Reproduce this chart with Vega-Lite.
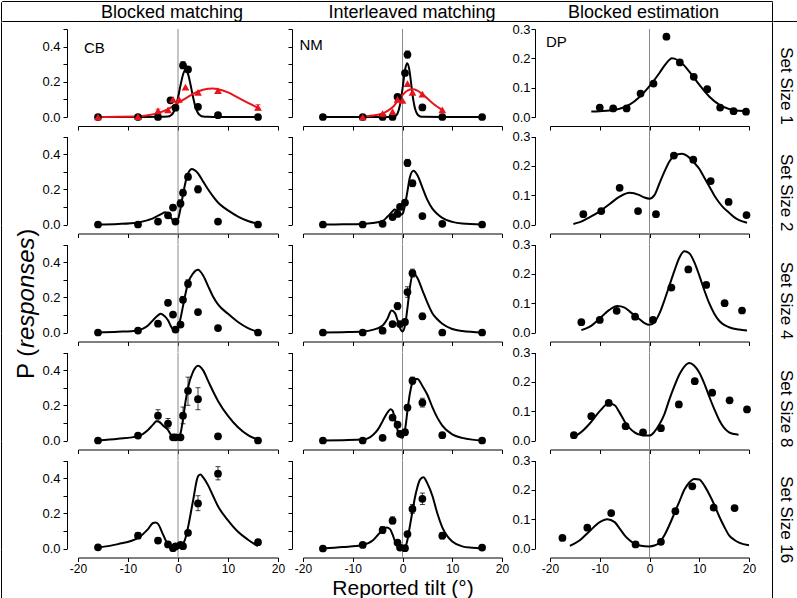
{
"$schema":"https://vega.github.io/schema/vega-lite/v6.json",
"padding":0,
"background":"white",
"config":{"font":"Liberation Sans","view":{"stroke":null},
"axis":{"grid":false,"domainColor":"black","tickColor":"black","labelColor":"black","tickSize":4,"labelFontSize":13,"labelPadding":3,"labelFlush":false,"labelOverlap":false,"titleColor":"black","titleFontWeight":"normal"},
"axisX":{"labelFontSize":12,"labelPadding":2},
"text":{"color":"black"}},
"datasets":{
"pts":[
{"p":"CB1","s":"b","x":-16,"y":0},{"p":"CB1","s":"b","x":-8,"y":0},{"p":"CB1","s":"b","x":-4,"y":0},{"p":"CB1","s":"b","x":-1.5,"y":0.095},{"p":"CB1","s":"b","x":-0.5,"y":0.053},{"p":"CB1","s":"b","x":1,"y":0.293,"lo":0.275,"hi":0.315},{"p":"CB1","s":"b","x":2,"y":0.27,"lo":0.258,"hi":0.282},{"p":"CB1","s":"b","x":4,"y":0.058},{"p":"CB1","s":"b","x":8,"y":0.01},{"p":"CB1","s":"b","x":16,"y":0},
{"p":"CB1","s":"r","x":-16,"y":0},{"p":"CB1","s":"r","x":-8,"y":0.002},{"p":"CB1","s":"r","x":-4,"y":0.035,"lo":0.025,"hi":0.045},{"p":"CB1","s":"r","x":-2,"y":0.04},{"p":"CB1","s":"r","x":-1,"y":0.1},{"p":"CB1","s":"r","x":0.2,"y":0.1},{"p":"CB1","s":"r","x":1.5,"y":0.17},{"p":"CB1","s":"r","x":4,"y":0.14},{"p":"CB1","s":"r","x":8,"y":0.15},{"p":"CB1","s":"r","x":16,"y":0.055,"lo":0.04,"hi":0.07},
{"p":"CB2","s":"b","x":-16,"y":0},{"p":"CB2","s":"b","x":-8,"y":0},{"p":"CB2","s":"b","x":-4,"y":0.017},{"p":"CB2","s":"b","x":-2,"y":0.052},{"p":"CB2","s":"b","x":-1,"y":0.096,"lo":0.085,"hi":0.11},{"p":"CB2","s":"b","x":-0.5,"y":0.017},{"p":"CB2","s":"b","x":0.5,"y":0.12,"lo":0.1,"hi":0.14},{"p":"CB2","s":"b","x":1,"y":0.18,"lo":0.165,"hi":0.2},{"p":"CB2","s":"b","x":2,"y":0.27,"lo":0.255,"hi":0.29},{"p":"CB2","s":"b","x":4,"y":0.2,"lo":0.18,"hi":0.22},{"p":"CB2","s":"b","x":8,"y":0.017},{"p":"CB2","s":"b","x":16,"y":0},
{"p":"CB3","s":"b","x":-16,"y":0},{"p":"CB3","s":"b","x":-8,"y":0.011},{"p":"CB3","s":"b","x":-4,"y":0.05},{"p":"CB3","s":"b","x":-2,"y":0.169,"lo":0.155,"hi":0.185},{"p":"CB3","s":"b","x":-1,"y":0.102},{"p":"CB3","s":"b","x":-0.5,"y":0.017},{"p":"CB3","s":"b","x":0.5,"y":0.045},{"p":"CB3","s":"b","x":1,"y":0.186,"lo":0.17,"hi":0.205},{"p":"CB3","s":"b","x":2,"y":0.277,"lo":0.255,"hi":0.3},{"p":"CB3","s":"b","x":4,"y":0.116},{"p":"CB3","s":"b","x":8,"y":0.025},{"p":"CB3","s":"b","x":16,"y":0},
{"p":"CB4","s":"b","x":-16,"y":0},{"p":"CB4","s":"b","x":-8,"y":0.028,"lo":0.018,"hi":0.04},{"p":"CB4","s":"b","x":-4,"y":0.141,"lo":0.11,"hi":0.175},{"p":"CB4","s":"b","x":-2,"y":0.096,"lo":0.07,"hi":0.125},{"p":"CB4","s":"b","x":-1,"y":0.018,"lo":0.005,"hi":0.03},{"p":"CB4","s":"b","x":-0.5,"y":0.018},{"p":"CB4","s":"b","x":0.5,"y":0.018,"lo":0.005,"hi":0.03},{"p":"CB4","s":"b","x":1,"y":0.141,"lo":0.095,"hi":0.19},{"p":"CB4","s":"b","x":2,"y":0.282,"lo":0.2,"hi":0.36},{"p":"CB4","s":"b","x":4,"y":0.235,"lo":0.175,"hi":0.3},{"p":"CB4","s":"b","x":8,"y":0.024,"lo":0.01,"hi":0.04},{"p":"CB4","s":"b","x":16,"y":0},
{"p":"CB5","s":"b","x":-16,"y":0.007},{"p":"CB5","s":"b","x":-8,"y":0.073,"lo":0.06,"hi":0.09},{"p":"CB5","s":"b","x":-4,"y":0.045,"lo":0.03,"hi":0.06},{"p":"CB5","s":"b","x":-2,"y":0.023},{"p":"CB5","s":"b","x":-1,"y":0.002},{"p":"CB5","s":"b","x":-0.5,"y":0.012},{"p":"CB5","s":"b","x":0.5,"y":0.021},{"p":"CB5","s":"b","x":1,"y":0.013},{"p":"CB5","s":"b","x":2,"y":0.089},{"p":"CB5","s":"b","x":4,"y":0.256,"lo":0.215,"hi":0.3},{"p":"CB5","s":"b","x":8,"y":0.425,"lo":0.39,"hi":0.465},{"p":"CB5","s":"b","x":16,"y":0.036},
{"p":"NM1","s":"b","x":-16,"y":0},{"p":"NM1","s":"b","x":-8,"y":0},{"p":"NM1","s":"b","x":-4,"y":0},{"p":"NM1","s":"b","x":-2,"y":0},{"p":"NM1","s":"b","x":-1,"y":0.115},{"p":"NM1","s":"b","x":0.5,"y":0.25},{"p":"NM1","s":"b","x":1,"y":0.355,"lo":0.335,"hi":0.375},{"p":"NM1","s":"b","x":4,"y":0.054},{"p":"NM1","s":"b","x":8,"y":0},{"p":"NM1","s":"b","x":16,"y":0},
{"p":"NM1","s":"r","x":-8,"y":0},{"p":"NM1","s":"r","x":-4,"y":0.02},{"p":"NM1","s":"r","x":-2,"y":0.03},{"p":"NM1","s":"r","x":-1,"y":0.1},{"p":"NM1","s":"r","x":0,"y":0.095},{"p":"NM1","s":"r","x":1,"y":0.19},{"p":"NM1","s":"r","x":2,"y":0.14},{"p":"NM1","s":"r","x":4,"y":0.13},{"p":"NM1","s":"r","x":8,"y":0.04},
{"p":"NM2","s":"b","x":-16,"y":0},{"p":"NM2","s":"b","x":-8,"y":0},{"p":"NM2","s":"b","x":-4,"y":0.004},{"p":"NM2","s":"b","x":-2,"y":0.042},{"p":"NM2","s":"b","x":-1,"y":0.06},{"p":"NM2","s":"b","x":-0.5,"y":0.1},{"p":"NM2","s":"b","x":0.5,"y":0.125},{"p":"NM2","s":"b","x":1,"y":0.35,"lo":0.33,"hi":0.37},{"p":"NM2","s":"b","x":2,"y":0.235,"lo":0.215,"hi":0.25},{"p":"NM2","s":"b","x":4,"y":0.048},{"p":"NM2","s":"b","x":8,"y":0.004},{"p":"NM2","s":"b","x":16,"y":0},
{"p":"NM3","s":"b","x":-16,"y":0},{"p":"NM3","s":"b","x":-8,"y":0},{"p":"NM3","s":"b","x":-4,"y":0.01},{"p":"NM3","s":"b","x":-2,"y":0.048},{"p":"NM3","s":"b","x":-1,"y":0.15,"lo":0.13,"hi":0.17},{"p":"NM3","s":"b","x":-0.5,"y":0.048},{"p":"NM3","s":"b","x":0.5,"y":0.06},{"p":"NM3","s":"b","x":1,"y":0.23,"lo":0.2,"hi":0.26},{"p":"NM3","s":"b","x":2,"y":0.337,"lo":0.315,"hi":0.36},{"p":"NM3","s":"b","x":4,"y":0.092,"lo":0.075,"hi":0.11},{"p":"NM3","s":"b","x":8,"y":0},{"p":"NM3","s":"b","x":16,"y":0},
{"p":"NM4","s":"b","x":-16,"y":0},{"p":"NM4","s":"b","x":-8,"y":0},{"p":"NM4","s":"b","x":-4,"y":0.015},{"p":"NM4","s":"b","x":-2,"y":0.13,"lo":0.12,"hi":0.14},{"p":"NM4","s":"b","x":-1,"y":0.09},{"p":"NM4","s":"b","x":-0.5,"y":0.038},{"p":"NM4","s":"b","x":0.5,"y":0.047},{"p":"NM4","s":"b","x":1,"y":0.187,"lo":0.17,"hi":0.2},{"p":"NM4","s":"b","x":2,"y":0.34,"lo":0.32,"hi":0.36},{"p":"NM4","s":"b","x":4,"y":0.215,"lo":0.19,"hi":0.24},{"p":"NM4","s":"b","x":8,"y":0.03},{"p":"NM4","s":"b","x":16,"y":0},
{"p":"NM5","s":"b","x":-16,"y":0},{"p":"NM5","s":"b","x":-8,"y":0.02},{"p":"NM5","s":"b","x":-4,"y":0.105,"lo":0.085,"hi":0.125},{"p":"NM5","s":"b","x":-2,"y":0.158,"lo":0.14,"hi":0.18},{"p":"NM5","s":"b","x":-1,"y":0.034},{"p":"NM5","s":"b","x":-0.5,"y":0.005},{"p":"NM5","s":"b","x":0.5,"y":0.002},{"p":"NM5","s":"b","x":1,"y":0.082},{"p":"NM5","s":"b","x":2,"y":0.225,"lo":0.2,"hi":0.25},{"p":"NM5","s":"b","x":4,"y":0.282,"lo":0.25,"hi":0.315},{"p":"NM5","s":"b","x":8,"y":0.073,"lo":0.055,"hi":0.09},{"p":"NM5","s":"b","x":16,"y":0.005},
{"p":"DP1","s":"b","x":-10,"y":0.032},{"p":"DP1","s":"b","x":-7.3,"y":0.029},{"p":"DP1","s":"b","x":-4.6,"y":0.029},{"p":"DP1","s":"b","x":-1.8,"y":0.08},{"p":"DP1","s":"b","x":0.8,"y":0.114},{"p":"DP1","s":"b","x":3.4,"y":0.274},{"p":"DP1","s":"b","x":6.1,"y":0.186},{"p":"DP1","s":"b","x":8.9,"y":0.137},{"p":"DP1","s":"b","x":11.6,"y":0.095},{"p":"DP1","s":"b","x":14.2,"y":0.032},{"p":"DP1","s":"b","x":16.9,"y":0.02},{"p":"DP1","s":"b","x":19.4,"y":0.018},
{"p":"DP2","s":"b","x":-13.3,"y":0.035},{"p":"DP2","s":"b","x":-9.7,"y":0.046},{"p":"DP2","s":"b","x":-6,"y":0.125},{"p":"DP2","s":"b","x":-2.3,"y":0.046},{"p":"DP2","s":"b","x":1.3,"y":0.035},{"p":"DP2","s":"b","x":4.9,"y":0.235},{"p":"DP2","s":"b","x":8.8,"y":0.221},{"p":"DP2","s":"b","x":12.3,"y":0.148},{"p":"DP2","s":"b","x":15.9,"y":0.077},{"p":"DP2","s":"b","x":19.5,"y":0.032},
{"p":"DP3","s":"b","x":-13.7,"y":0.035},{"p":"DP3","s":"b","x":-10,"y":0.043},{"p":"DP3","s":"b","x":-6.6,"y":0.074},{"p":"DP3","s":"b","x":-2.9,"y":0.054},{"p":"DP3","s":"b","x":0.7,"y":0.043},{"p":"DP3","s":"b","x":4.4,"y":0.153},{"p":"DP3","s":"b","x":7.8,"y":0.215},{"p":"DP3","s":"b","x":11.4,"y":0.162},{"p":"DP3","s":"b","x":15.1,"y":0.1},{"p":"DP3","s":"b","x":18.6,"y":0.075},
{"p":"DP4","s":"b","x":-15.2,"y":0.018},{"p":"DP4","s":"b","x":-11.7,"y":0.083},{"p":"DP4","s":"b","x":-8.2,"y":0.128},{"p":"DP4","s":"b","x":-4.8,"y":0.049},{"p":"DP4","s":"b","x":-1.3,"y":0.028},{"p":"DP4","s":"b","x":2.3,"y":0.042},{"p":"DP4","s":"b","x":5.9,"y":0.123},{"p":"DP4","s":"b","x":9.1,"y":0.202},{"p":"DP4","s":"b","x":12.6,"y":0.163},{"p":"DP4","s":"b","x":16.1,"y":0.137},{"p":"DP4","s":"b","x":19.6,"y":0.106},
{"p":"DP5","s":"b","x":-17.5,"y":0.036},{"p":"DP5","s":"b","x":-12.5,"y":0.071},{"p":"DP5","s":"b","x":-7.7,"y":0.121},{"p":"DP5","s":"b","x":-2.8,"y":0.014},{"p":"DP5","s":"b","x":2.3,"y":0.023},{"p":"DP5","s":"b","x":5.2,"y":0.127},{"p":"DP5","s":"b","x":8.6,"y":0.212},{"p":"DP5","s":"b","x":12.9,"y":0.139},{"p":"DP5","s":"b","x":17.1,"y":0.138}
],
"crv":[
{"p":"CB1","s":"b","x":-16,"y":0},{"p":"CB1","s":"b","x":-8,"y":0},{"p":"CB1","s":"b","x":-4,"y":0.001},{"p":"CB1","s":"b","x":-2,"y":0.003},{"p":"CB1","s":"b","x":-1.5,"y":0.008},{"p":"CB1","s":"b","x":-1,"y":0.022},{"p":"CB1","s":"b","x":-0.5,"y":0.055},{"p":"CB1","s":"b","x":0,"y":0.11},{"p":"CB1","s":"b","x":0.5,"y":0.18},{"p":"CB1","s":"b","x":1,"y":0.24},{"p":"CB1","s":"b","x":1.5,"y":0.27},{"p":"CB1","s":"b","x":2,"y":0.245},{"p":"CB1","s":"b","x":2.5,"y":0.185},{"p":"CB1","s":"b","x":3,"y":0.115},{"p":"CB1","s":"b","x":3.5,"y":0.055},{"p":"CB1","s":"b","x":4,"y":0.022},{"p":"CB1","s":"b","x":4.5,"y":0.008},{"p":"CB1","s":"b","x":5,"y":0.003},{"p":"CB1","s":"b","x":6,"y":0.001},{"p":"CB1","s":"b","x":8,"y":0},{"p":"CB1","s":"b","x":16,"y":0},
{"p":"CB1","s":"r","x":-16,"y":0},{"p":"CB1","s":"r","x":-12,"y":0.001},{"p":"CB1","s":"r","x":-8,"y":0.004},{"p":"CB1","s":"r","x":-6,"y":0.01},{"p":"CB1","s":"r","x":-4,"y":0.022},{"p":"CB1","s":"r","x":-2,"y":0.045},{"p":"CB1","s":"r","x":0,"y":0.08},{"p":"CB1","s":"r","x":2,"y":0.115},{"p":"CB1","s":"r","x":4,"y":0.145},{"p":"CB1","s":"r","x":6,"y":0.16},{"p":"CB1","s":"r","x":7,"y":0.162},{"p":"CB1","s":"r","x":8,"y":0.158},{"p":"CB1","s":"r","x":10,"y":0.14},{"p":"CB1","s":"r","x":12,"y":0.11},{"p":"CB1","s":"r","x":14,"y":0.08},{"p":"CB1","s":"r","x":16,"y":0.052},
{"p":"CB2","s":"b","x":-16,"y":0},{"p":"CB2","s":"b","x":-12,"y":0.003},{"p":"CB2","s":"b","x":-8,"y":0.012},{"p":"CB2","s":"b","x":-6,"y":0.025},{"p":"CB2","s":"b","x":-5,"y":0.035},{"p":"CB2","s":"b","x":-4,"y":0.05},{"p":"CB2","s":"b","x":-3,"y":0.065},{"p":"CB2","s":"b","x":-2.6,"y":0.07},{"p":"CB2","s":"b","x":-2,"y":0.062},{"p":"CB2","s":"b","x":-1.5,"y":0.042},{"p":"CB2","s":"b","x":-1,"y":0.022},{"p":"CB2","s":"b","x":-0.5,"y":0.014},{"p":"CB2","s":"b","x":0,"y":0.03},{"p":"CB2","s":"b","x":0.5,"y":0.09},{"p":"CB2","s":"b","x":1,"y":0.17},{"p":"CB2","s":"b","x":1.5,"y":0.24},{"p":"CB2","s":"b","x":2,"y":0.29},{"p":"CB2","s":"b","x":2.8,"y":0.316},{"p":"CB2","s":"b","x":3.5,"y":0.305},{"p":"CB2","s":"b","x":4,"y":0.29},{"p":"CB2","s":"b","x":5,"y":0.245},{"p":"CB2","s":"b","x":6,"y":0.2},{"p":"CB2","s":"b","x":7,"y":0.16},{"p":"CB2","s":"b","x":8,"y":0.125},{"p":"CB2","s":"b","x":9,"y":0.1},{"p":"CB2","s":"b","x":10,"y":0.08},{"p":"CB2","s":"b","x":12,"y":0.045},{"p":"CB2","s":"b","x":14,"y":0.02},{"p":"CB2","s":"b","x":16,"y":0.004},
{"p":"CB3","s":"b","x":-16,"y":0},{"p":"CB3","s":"b","x":-12,"y":0.004},{"p":"CB3","s":"b","x":-8,"y":0.012},{"p":"CB3","s":"b","x":-7,"y":0.022},{"p":"CB3","s":"b","x":-6,"y":0.04},{"p":"CB3","s":"b","x":-5,"y":0.07},{"p":"CB3","s":"b","x":-4,"y":0.097},{"p":"CB3","s":"b","x":-3.5,"y":0.106},{"p":"CB3","s":"b","x":-3,"y":0.1},{"p":"CB3","s":"b","x":-2,"y":0.07},{"p":"CB3","s":"b","x":-1.5,"y":0.04},{"p":"CB3","s":"b","x":-1,"y":0.018},{"p":"CB3","s":"b","x":-0.5,"y":0.012},{"p":"CB3","s":"b","x":0,"y":0.03},{"p":"CB3","s":"b","x":0.5,"y":0.08},{"p":"CB3","s":"b","x":1,"y":0.15},{"p":"CB3","s":"b","x":1.5,"y":0.22},{"p":"CB3","s":"b","x":2,"y":0.28},{"p":"CB3","s":"b","x":3,"y":0.335},{"p":"CB3","s":"b","x":4,"y":0.356},{"p":"CB3","s":"b","x":5,"y":0.325},{"p":"CB3","s":"b","x":6,"y":0.265},{"p":"CB3","s":"b","x":7,"y":0.205},{"p":"CB3","s":"b","x":8,"y":0.16},{"p":"CB3","s":"b","x":10,"y":0.106},{"p":"CB3","s":"b","x":12,"y":0.06},{"p":"CB3","s":"b","x":14,"y":0.025},{"p":"CB3","s":"b","x":16,"y":0.003},
{"p":"CB4","s":"b","x":-16,"y":0},{"p":"CB4","s":"b","x":-12,"y":0.01},{"p":"CB4","s":"b","x":-8,"y":0.025},{"p":"CB4","s":"b","x":-6,"y":0.06},{"p":"CB4","s":"b","x":-5,"y":0.09},{"p":"CB4","s":"b","x":-4.3,"y":0.109},{"p":"CB4","s":"b","x":-3.5,"y":0.1},{"p":"CB4","s":"b","x":-3,"y":0.085},{"p":"CB4","s":"b","x":-2,"y":0.06},{"p":"CB4","s":"b","x":-1.5,"y":0.035},{"p":"CB4","s":"b","x":-1,"y":0.012},{"p":"CB4","s":"b","x":-0.5,"y":0.008},{"p":"CB4","s":"b","x":0,"y":0.012},{"p":"CB4","s":"b","x":0.5,"y":0.04},{"p":"CB4","s":"b","x":1,"y":0.12},{"p":"CB4","s":"b","x":1.5,"y":0.22},{"p":"CB4","s":"b","x":2,"y":0.3},{"p":"CB4","s":"b","x":3,"y":0.39},{"p":"CB4","s":"b","x":4,"y":0.425},{"p":"CB4","s":"b","x":5,"y":0.4},{"p":"CB4","s":"b","x":6,"y":0.34},{"p":"CB4","s":"b","x":7,"y":0.28},{"p":"CB4","s":"b","x":8,"y":0.225},{"p":"CB4","s":"b","x":10,"y":0.14},{"p":"CB4","s":"b","x":12,"y":0.075},{"p":"CB4","s":"b","x":14,"y":0.03},{"p":"CB4","s":"b","x":16,"y":0.005},
{"p":"CB5","s":"b","x":-16,"y":0.005},{"p":"CB5","s":"b","x":-12,"y":0.025},{"p":"CB5","s":"b","x":-8,"y":0.06},{"p":"CB5","s":"b","x":-6,"y":0.11},{"p":"CB5","s":"b","x":-5,"y":0.145},{"p":"CB5","s":"b","x":-4.5,"y":0.148},{"p":"CB5","s":"b","x":-4,"y":0.14},{"p":"CB5","s":"b","x":-3,"y":0.08},{"p":"CB5","s":"b","x":-2,"y":0.02},{"p":"CB5","s":"b","x":-1.5,"y":0.006},{"p":"CB5","s":"b","x":-1,"y":0.002},{"p":"CB5","s":"b","x":0,"y":0.005},{"p":"CB5","s":"b","x":0.5,"y":0.01},{"p":"CB5","s":"b","x":1,"y":0.025},{"p":"CB5","s":"b","x":1.5,"y":0.06},{"p":"CB5","s":"b","x":2,"y":0.12},{"p":"CB5","s":"b","x":3,"y":0.27},{"p":"CB5","s":"b","x":4,"y":0.41},{"p":"CB5","s":"b","x":4.5,"y":0.42},{"p":"CB5","s":"b","x":5,"y":0.405},{"p":"CB5","s":"b","x":6,"y":0.36},{"p":"CB5","s":"b","x":7,"y":0.3},{"p":"CB5","s":"b","x":8,"y":0.24},{"p":"CB5","s":"b","x":10,"y":0.16},{"p":"CB5","s":"b","x":12,"y":0.095},{"p":"CB5","s":"b","x":14,"y":0.05},{"p":"CB5","s":"b","x":16,"y":0.013},
{"p":"NM1","s":"b","x":-16,"y":0},{"p":"NM1","s":"b","x":-8,"y":0},{"p":"NM1","s":"b","x":-4,"y":0},{"p":"NM1","s":"b","x":-2,"y":0.001},{"p":"NM1","s":"b","x":-1.5,"y":0.005},{"p":"NM1","s":"b","x":-1,"y":0.02},{"p":"NM1","s":"b","x":-0.5,"y":0.07},{"p":"NM1","s":"b","x":0,"y":0.16},{"p":"NM1","s":"b","x":0.5,"y":0.265},{"p":"NM1","s":"b","x":0.9,"y":0.305},{"p":"NM1","s":"b","x":1.3,"y":0.28},{"p":"NM1","s":"b","x":1.7,"y":0.2},{"p":"NM1","s":"b","x":2,"y":0.13},{"p":"NM1","s":"b","x":2.5,"y":0.05},{"p":"NM1","s":"b","x":3,"y":0.015},{"p":"NM1","s":"b","x":3.5,"y":0.004},{"p":"NM1","s":"b","x":4,"y":0.001},{"p":"NM1","s":"b","x":8,"y":0},{"p":"NM1","s":"b","x":16,"y":0},
{"p":"NM1","s":"r","x":-8,"y":0.003},{"p":"NM1","s":"r","x":-6,"y":0.008},{"p":"NM1","s":"r","x":-4,"y":0.02},{"p":"NM1","s":"r","x":-3,"y":0.035},{"p":"NM1","s":"r","x":-2,"y":0.055},{"p":"NM1","s":"r","x":-1,"y":0.09},{"p":"NM1","s":"r","x":0,"y":0.125},{"p":"NM1","s":"r","x":1,"y":0.15},{"p":"NM1","s":"r","x":2,"y":0.157},{"p":"NM1","s":"r","x":3,"y":0.15},{"p":"NM1","s":"r","x":4,"y":0.13},{"p":"NM1","s":"r","x":5,"y":0.105},{"p":"NM1","s":"r","x":6,"y":0.08},{"p":"NM1","s":"r","x":7,"y":0.058},{"p":"NM1","s":"r","x":8,"y":0.04},
{"p":"NM2","s":"b","x":-16,"y":0},{"p":"NM2","s":"b","x":-12,"y":0.001},{"p":"NM2","s":"b","x":-8,"y":0.003},{"p":"NM2","s":"b","x":-6,"y":0.008},{"p":"NM2","s":"b","x":-4,"y":0.02},{"p":"NM2","s":"b","x":-3,"y":0.045},{"p":"NM2","s":"b","x":-2,"y":0.075},{"p":"NM2","s":"b","x":-1.6,"y":0.085},{"p":"NM2","s":"b","x":-1,"y":0.075},{"p":"NM2","s":"b","x":-0.5,"y":0.055},{"p":"NM2","s":"b","x":0,"y":0.06},{"p":"NM2","s":"b","x":0.5,"y":0.11},{"p":"NM2","s":"b","x":1,"y":0.19},{"p":"NM2","s":"b","x":1.5,"y":0.27},{"p":"NM2","s":"b","x":2.2,"y":0.305},{"p":"NM2","s":"b","x":3,"y":0.28},{"p":"NM2","s":"b","x":4,"y":0.21},{"p":"NM2","s":"b","x":5,"y":0.14},{"p":"NM2","s":"b","x":6,"y":0.09},{"p":"NM2","s":"b","x":7,"y":0.06},{"p":"NM2","s":"b","x":8,"y":0.038},{"p":"NM2","s":"b","x":10,"y":0.015},{"p":"NM2","s":"b","x":12,"y":0.005},{"p":"NM2","s":"b","x":16,"y":0},
{"p":"NM3","s":"b","x":-16,"y":0},{"p":"NM3","s":"b","x":-12,"y":0.002},{"p":"NM3","s":"b","x":-8,"y":0.006},{"p":"NM3","s":"b","x":-6,"y":0.015},{"p":"NM3","s":"b","x":-4,"y":0.04},{"p":"NM3","s":"b","x":-3,"y":0.08},{"p":"NM3","s":"b","x":-2.2,"y":0.125},{"p":"NM3","s":"b","x":-1.5,"y":0.11},{"p":"NM3","s":"b","x":-1,"y":0.07},{"p":"NM3","s":"b","x":-0.5,"y":0.025},{"p":"NM3","s":"b","x":0,"y":0.006},{"p":"NM3","s":"b","x":0.5,"y":0.04},{"p":"NM3","s":"b","x":1,"y":0.14},{"p":"NM3","s":"b","x":1.5,"y":0.26},{"p":"NM3","s":"b","x":2.2,"y":0.335},{"p":"NM3","s":"b","x":3,"y":0.31},{"p":"NM3","s":"b","x":4,"y":0.24},{"p":"NM3","s":"b","x":5,"y":0.17},{"p":"NM3","s":"b","x":6,"y":0.11},{"p":"NM3","s":"b","x":7,"y":0.075},{"p":"NM3","s":"b","x":8,"y":0.05},{"p":"NM3","s":"b","x":10,"y":0.02},{"p":"NM3","s":"b","x":12,"y":0.008},{"p":"NM3","s":"b","x":16,"y":0},
{"p":"NM4","s":"b","x":-16,"y":0},{"p":"NM4","s":"b","x":-12,"y":0.002},{"p":"NM4","s":"b","x":-8,"y":0.005},{"p":"NM4","s":"b","x":-6,"y":0.03},{"p":"NM4","s":"b","x":-5,"y":0.06},{"p":"NM4","s":"b","x":-4,"y":0.11},{"p":"NM4","s":"b","x":-3,"y":0.16},{"p":"NM4","s":"b","x":-2.4,"y":0.177},{"p":"NM4","s":"b","x":-2,"y":0.17},{"p":"NM4","s":"b","x":-1.5,"y":0.12},{"p":"NM4","s":"b","x":-1,"y":0.06},{"p":"NM4","s":"b","x":-0.5,"y":0.02},{"p":"NM4","s":"b","x":0,"y":0.015},{"p":"NM4","s":"b","x":0.5,"y":0.06},{"p":"NM4","s":"b","x":1,"y":0.17},{"p":"NM4","s":"b","x":1.5,"y":0.27},{"p":"NM4","s":"b","x":2,"y":0.33},{"p":"NM4","s":"b","x":2.5,"y":0.35},{"p":"NM4","s":"b","x":3,"y":0.35},{"p":"NM4","s":"b","x":4,"y":0.31},{"p":"NM4","s":"b","x":5,"y":0.26},{"p":"NM4","s":"b","x":6,"y":0.19},{"p":"NM4","s":"b","x":7,"y":0.13},{"p":"NM4","s":"b","x":8,"y":0.085},{"p":"NM4","s":"b","x":10,"y":0.035},{"p":"NM4","s":"b","x":12,"y":0.015},{"p":"NM4","s":"b","x":14,"y":0.005},{"p":"NM4","s":"b","x":16,"y":0},
{"p":"NM5","s":"b","x":-16,"y":0},{"p":"NM5","s":"b","x":-12,"y":0.008},{"p":"NM5","s":"b","x":-8,"y":0.02},{"p":"NM5","s":"b","x":-6,"y":0.045},{"p":"NM5","s":"b","x":-5,"y":0.075},{"p":"NM5","s":"b","x":-4,"y":0.105},{"p":"NM5","s":"b","x":-3.2,"y":0.12},{"p":"NM5","s":"b","x":-2.5,"y":0.11},{"p":"NM5","s":"b","x":-2,"y":0.08},{"p":"NM5","s":"b","x":-1.5,"y":0.04},{"p":"NM5","s":"b","x":-1,"y":0.015},{"p":"NM5","s":"b","x":-0.3,"y":0.005},{"p":"NM5","s":"b","x":0.5,"y":0.005},{"p":"NM5","s":"b","x":1,"y":0.05},{"p":"NM5","s":"b","x":1.5,"y":0.13},{"p":"NM5","s":"b","x":2,"y":0.21},{"p":"NM5","s":"b","x":2.5,"y":0.29},{"p":"NM5","s":"b","x":3,"y":0.35},{"p":"NM5","s":"b","x":3.5,"y":0.39},{"p":"NM5","s":"b","x":4.2,"y":0.405},{"p":"NM5","s":"b","x":5,"y":0.37},{"p":"NM5","s":"b","x":6,"y":0.3},{"p":"NM5","s":"b","x":7,"y":0.2},{"p":"NM5","s":"b","x":8,"y":0.12},{"p":"NM5","s":"b","x":9,"y":0.07},{"p":"NM5","s":"b","x":10,"y":0.04},{"p":"NM5","s":"b","x":12,"y":0.012},{"p":"NM5","s":"b","x":14,"y":0.004},{"p":"NM5","s":"b","x":16,"y":0},
{"p":"DP1","s":"b","x":-11.7,"y":0.019},{"p":"DP1","s":"b","x":-10,"y":0.02},{"p":"DP1","s":"b","x":-8,"y":0.022},{"p":"DP1","s":"b","x":-6,"y":0.028},{"p":"DP1","s":"b","x":-4,"y":0.042},{"p":"DP1","s":"b","x":-2,"y":0.068},{"p":"DP1","s":"b","x":0,"y":0.105},{"p":"DP1","s":"b","x":2,"y":0.15},{"p":"DP1","s":"b","x":3,"y":0.175},{"p":"DP1","s":"b","x":4,"y":0.195},{"p":"DP1","s":"b","x":4.5,"y":0.2},{"p":"DP1","s":"b","x":5,"y":0.199},{"p":"DP1","s":"b","x":6,"y":0.19},{"p":"DP1","s":"b","x":7,"y":0.175},{"p":"DP1","s":"b","x":8,"y":0.155},{"p":"DP1","s":"b","x":10,"y":0.11},{"p":"DP1","s":"b","x":12,"y":0.07},{"p":"DP1","s":"b","x":14,"y":0.042},{"p":"DP1","s":"b","x":16,"y":0.027},{"p":"DP1","s":"b","x":18,"y":0.021},{"p":"DP1","s":"b","x":20,"y":0.019},
{"p":"DP2","s":"b","x":-15.3,"y":0.002},{"p":"DP2","s":"b","x":-14,"y":0.008},{"p":"DP2","s":"b","x":-12,"y":0.025},{"p":"DP2","s":"b","x":-10,"y":0.045},{"p":"DP2","s":"b","x":-8,"y":0.07},{"p":"DP2","s":"b","x":-6,"y":0.095},{"p":"DP2","s":"b","x":-4,"y":0.108},{"p":"DP2","s":"b","x":-2,"y":0.1},{"p":"DP2","s":"b","x":-1,"y":0.092},{"p":"DP2","s":"b","x":0,"y":0.088},{"p":"DP2","s":"b","x":1,"y":0.1},{"p":"DP2","s":"b","x":2,"y":0.14},{"p":"DP2","s":"b","x":3,"y":0.18},{"p":"DP2","s":"b","x":4,"y":0.215},{"p":"DP2","s":"b","x":5,"y":0.235},{"p":"DP2","s":"b","x":6.5,"y":0.241},{"p":"DP2","s":"b","x":8,"y":0.228},{"p":"DP2","s":"b","x":9,"y":0.21},{"p":"DP2","s":"b","x":10,"y":0.19},{"p":"DP2","s":"b","x":11,"y":0.16},{"p":"DP2","s":"b","x":12,"y":0.13},{"p":"DP2","s":"b","x":13,"y":0.1},{"p":"DP2","s":"b","x":14,"y":0.075},{"p":"DP2","s":"b","x":15,"y":0.055},{"p":"DP2","s":"b","x":16,"y":0.04},{"p":"DP2","s":"b","x":17,"y":0.025},{"p":"DP2","s":"b","x":18,"y":0.015},{"p":"DP2","s":"b","x":19.6,"y":0.006},
{"p":"DP3","s":"b","x":-13.7,"y":0.008},{"p":"DP3","s":"b","x":-12,"y":0.02},{"p":"DP3","s":"b","x":-10,"y":0.048},{"p":"DP3","s":"b","x":-8,"y":0.078},{"p":"DP3","s":"b","x":-6.5,"y":0.09},{"p":"DP3","s":"b","x":-5,"y":0.085},{"p":"DP3","s":"b","x":-4,"y":0.072},{"p":"DP3","s":"b","x":-2,"y":0.045},{"p":"DP3","s":"b","x":-1,"y":0.032},{"p":"DP3","s":"b","x":0,"y":0.026},{"p":"DP3","s":"b","x":1,"y":0.035},{"p":"DP3","s":"b","x":2,"y":0.065},{"p":"DP3","s":"b","x":3,"y":0.11},{"p":"DP3","s":"b","x":4,"y":0.16},{"p":"DP3","s":"b","x":5,"y":0.21},{"p":"DP3","s":"b","x":6,"y":0.255},{"p":"DP3","s":"b","x":7,"y":0.277},{"p":"DP3","s":"b","x":8,"y":0.27},{"p":"DP3","s":"b","x":9,"y":0.24},{"p":"DP3","s":"b","x":10,"y":0.195},{"p":"DP3","s":"b","x":11,"y":0.145},{"p":"DP3","s":"b","x":12,"y":0.1},{"p":"DP3","s":"b","x":13,"y":0.065},{"p":"DP3","s":"b","x":14,"y":0.04},{"p":"DP3","s":"b","x":15,"y":0.026},{"p":"DP3","s":"b","x":16,"y":0.018},{"p":"DP3","s":"b","x":18,"y":0.01},{"p":"DP3","s":"b","x":19.6,"y":0.007},
{"p":"DP4","s":"b","x":-15.2,"y":0.013},{"p":"DP4","s":"b","x":-14,"y":0.025},{"p":"DP4","s":"b","x":-12,"y":0.058},{"p":"DP4","s":"b","x":-10,"y":0.1},{"p":"DP4","s":"b","x":-8.2,"y":0.127},{"p":"DP4","s":"b","x":-7,"y":0.12},{"p":"DP4","s":"b","x":-6,"y":0.095},{"p":"DP4","s":"b","x":-5,"y":0.065},{"p":"DP4","s":"b","x":-4,"y":0.042},{"p":"DP4","s":"b","x":-3,"y":0.028},{"p":"DP4","s":"b","x":-2,"y":0.02},{"p":"DP4","s":"b","x":-1,"y":0.017},{"p":"DP4","s":"b","x":0,"y":0.017},{"p":"DP4","s":"b","x":1,"y":0.03},{"p":"DP4","s":"b","x":2,"y":0.055},{"p":"DP4","s":"b","x":3,"y":0.09},{"p":"DP4","s":"b","x":4,"y":0.14},{"p":"DP4","s":"b","x":5,"y":0.185},{"p":"DP4","s":"b","x":6,"y":0.225},{"p":"DP4","s":"b","x":7,"y":0.252},{"p":"DP4","s":"b","x":8,"y":0.264},{"p":"DP4","s":"b","x":9,"y":0.255},{"p":"DP4","s":"b","x":10,"y":0.232},{"p":"DP4","s":"b","x":11,"y":0.195},{"p":"DP4","s":"b","x":12,"y":0.15},{"p":"DP4","s":"b","x":13,"y":0.108},{"p":"DP4","s":"b","x":14,"y":0.07},{"p":"DP4","s":"b","x":15,"y":0.043},{"p":"DP4","s":"b","x":16,"y":0.028},{"p":"DP4","s":"b","x":17,"y":0.022},{"p":"DP4","s":"b","x":17.9,"y":0.02},
{"p":"DP5","s":"b","x":-16,"y":0.009},{"p":"DP5","s":"b","x":-14,"y":0.028},{"p":"DP5","s":"b","x":-12,"y":0.06},{"p":"DP5","s":"b","x":-10,"y":0.09},{"p":"DP5","s":"b","x":-8.5,"y":0.1},{"p":"DP5","s":"b","x":-7,"y":0.09},{"p":"DP5","s":"b","x":-6,"y":0.068},{"p":"DP5","s":"b","x":-5,"y":0.045},{"p":"DP5","s":"b","x":-4,"y":0.028},{"p":"DP5","s":"b","x":-3,"y":0.016},{"p":"DP5","s":"b","x":-2,"y":0.01},{"p":"DP5","s":"b","x":0,"y":0.007},{"p":"DP5","s":"b","x":1,"y":0.01},{"p":"DP5","s":"b","x":2,"y":0.02},{"p":"DP5","s":"b","x":3,"y":0.045},{"p":"DP5","s":"b","x":4,"y":0.08},{"p":"DP5","s":"b","x":5,"y":0.12},{"p":"DP5","s":"b","x":6,"y":0.16},{"p":"DP5","s":"b","x":7,"y":0.2},{"p":"DP5","s":"b","x":8,"y":0.225},{"p":"DP5","s":"b","x":9,"y":0.237},{"p":"DP5","s":"b","x":10,"y":0.235},{"p":"DP5","s":"b","x":11,"y":0.215},{"p":"DP5","s":"b","x":12,"y":0.185},{"p":"DP5","s":"b","x":13,"y":0.15},{"p":"DP5","s":"b","x":14,"y":0.11},{"p":"DP5","s":"b","x":15,"y":0.075},{"p":"DP5","s":"b","x":16,"y":0.045},{"p":"DP5","s":"b","x":17,"y":0.03},{"p":"DP5","s":"b","x":18,"y":0.02},{"p":"DP5","s":"b","x":20,"y":0.011}
]
},
"columns":8,
"spacing":0,
"bounds":"flush",
"align":"each",
"concat":[
{"width":0.01,"height":0.01,"data":{"values":[]},"mark":"point"},
{"width":76,"height":0.01,"view":{"stroke":"black"},"data":{"values":[]},"mark":"point"},
{"width":225,"height":0.01,"view":{"stroke":"black"},"data":{"values":[]},"mark":"point"},
{"width":247,"height":0.01,"view":{"stroke":"black"},"data":{"values":[]},"mark":"point"},
{"width":222,"height":0.01,"view":{"stroke":"black"},"data":{"values":[]},"mark":"point"},
{"width":0.01,"height":0.01,"data":{"values":[]},"mark":"point"},
{"width":26,"height":0.01,"data":{"values":[]},"mark":"point"},
{"width":0.01,"height":0.01,"data":{"values":[]},"mark":"point"},

{"width":0.01,"height":19,"view":{"stroke":"black"},"data":{"values":[]},"mark":"point"},
{"width":76,"height":19,"data":{"values":[]},"mark":"point"},
{"width":225,"height":19,"data":{"values":[{}]},"mark":{"type":"text","text":"Blocked matching","fontSize":18,"baseline":"alphabetic","dx":-18.5,"dy":6}},
{"width":247,"height":19,"data":{"values":[{}]},"mark":{"type":"text","text":"Interleaved matching","fontSize":18,"baseline":"alphabetic","dx":-14.5,"dy":6}},
{"width":222,"height":19,"data":{"values":[{}]},"mark":{"type":"text","text":"Blocked estimation","fontSize":18,"baseline":"alphabetic","dx":-17.5,"dy":6}},
{"width":0.01,"height":19,"view":{"stroke":"black"},"data":{"values":[]},"mark":"point"},
{"width":26,"height":19,"data":{"values":[]},"mark":"point"},
{"width":0.01,"height":19,"data":{"values":[]},"mark":"point"},

{"width":0.01,"height":0.01,"data":{"values":[]},"mark":"point"},
{"width":76,"height":0.01,"view":{"stroke":"black"},"data":{"values":[]},"mark":"point"},
{"width":225,"height":0.01,"view":{"stroke":"black"},"data":{"values":[]},"mark":"point"},
{"width":247,"height":0.01,"view":{"stroke":"black"},"data":{"values":[]},"mark":"point"},
{"width":222,"height":0.01,"view":{"stroke":"black"},"data":{"values":[]},"mark":"point"},
{"width":0.01,"height":0.01,"data":{"values":[]},"mark":"point"},
{"width":26,"height":0.01,"view":{"stroke":"black"},"data":{"values":[]},"mark":"point"},
{"width":0.01,"height":0.01,"data":{"values":[]},"mark":"point"},

{"width":0.01,"height":95,"view":{"stroke":"black"},"data":{"values":[]},"mark":"point"},
{"width":76,"height":95,"data":{"values":[]},"mark":"point"},
{"width":225,"height":95,"layer":[
{"data":{"values":[{}]},"mark":{"type":"rule","color":"#8a8a8a","strokeWidth":1},"encoding":{"x":{"datum":0,"type":"quantitative","scale":{"domain":[-20,20],"nice":false,"zero":false,"range":[0,200]},"axis":{"values":[-20,-10,0,10,20],"tickCount":10,"offset":9,"labels":false,"title":null}},"y":{"datum":-0.111,"type":"quantitative","scale":{"domain":[0,0.5],"nice":false,"range":[95,7]},"axis":{"values":[0,0.1,0.2,0.3,0.4,0.5],"tickCount":10,"offset":11,"title":null,"labelOverlap":false,"labelExpr":"(datum.value == 0 || datum.value == 0.2 || datum.value == 0.4) ? format(datum.value, '.1f') : ''"}},"y2":{"datum":0.5}}},
{"data":{"name":"pts"},"transform":[{"filter":"datum.p=='CB1' && isValid(datum.lo)"}],"mark":{"type":"errorbar","ticks":true,"size":5,"thickness":1,"opacity":0.75},"encoding":{"x":{"field":"x","type":"quantitative"},"y":{"field":"lo","type":"quantitative"},"y2":{"field":"hi"},"color":{"field":"s","type":"nominal","scale":{"domain":["b","r"],"range":["black","#e8141c"]},"legend":null}}},
{"data":{"name":"crv"},"transform":[{"filter":"datum.p=='CB1'"}],"mark":{"type":"line","strokeWidth":2,"interpolate":"monotone"},"encoding":{"x":{"field":"x","type":"quantitative"},"y":{"field":"y","type":"quantitative"},"color":{"field":"s","type":"nominal","scale":{"domain":["b","r"],"range":["black","#e8141c"]},"legend":null}}},
{"data":{"name":"pts"},"transform":[{"filter":"datum.p=='CB1'"}],"mark":{"type":"point","filled":true,"opacity":1,"size":60},"encoding":{"x":{"field":"x","type":"quantitative"},"y":{"field":"y","type":"quantitative"},"color":{"field":"s","type":"nominal","scale":{"domain":["b","r"],"range":["black","#e8141c"]},"legend":null},"shape":{"field":"s","type":"nominal","scale":{"domain":["b","r"],"range":["circle","triangle-up"]},"legend":null}}},
{"data":{"values":[{}]},"mark":{"type":"text","text":"CB","fontSize":15,"align":"left","baseline":"alphabetic"},"encoding":{"x":{"datum":-18.8,"type":"quantitative"},"y":{"datum":0.365,"type":"quantitative"}}}
]},
{"width":247,"height":95,"layer":[
{"data":{"values":[{}]},"mark":{"type":"rule","color":"#8a8a8a","strokeWidth":1},"encoding":{"x":{"datum":0,"type":"quantitative","scale":{"domain":[-20,20],"nice":false,"zero":false,"range":[0,199]},"axis":{"values":[-20,-10,0,10,20],"tickCount":10,"offset":9,"labels":false,"title":null}},"y":{"datum":-0.111,"type":"quantitative","scale":{"domain":[0,0.5],"nice":false,"range":[95,7]},"axis":{"values":[0,0.1,0.2,0.3,0.4,0.5],"tickCount":10,"offset":11,"title":null,"labels":false}},"y2":{"datum":0.5}}},
{"data":{"name":"pts"},"transform":[{"filter":"datum.p=='NM1' && isValid(datum.lo)"}],"mark":{"type":"errorbar","ticks":true,"size":5,"thickness":1,"opacity":0.75},"encoding":{"x":{"field":"x","type":"quantitative"},"y":{"field":"lo","type":"quantitative"},"y2":{"field":"hi"},"color":{"field":"s","type":"nominal","scale":{"domain":["b","r"],"range":["black","#e8141c"]},"legend":null}}},
{"data":{"name":"crv"},"transform":[{"filter":"datum.p=='NM1'"}],"mark":{"type":"line","strokeWidth":2,"interpolate":"monotone"},"encoding":{"x":{"field":"x","type":"quantitative"},"y":{"field":"y","type":"quantitative"},"color":{"field":"s","type":"nominal","scale":{"domain":["b","r"],"range":["black","#e8141c"]},"legend":null}}},
{"data":{"name":"pts"},"transform":[{"filter":"datum.p=='NM1'"}],"mark":{"type":"point","filled":true,"opacity":1,"size":60},"encoding":{"x":{"field":"x","type":"quantitative"},"y":{"field":"y","type":"quantitative"},"color":{"field":"s","type":"nominal","scale":{"domain":["b","r"],"range":["black","#e8141c"]},"legend":null},"shape":{"field":"s","type":"nominal","scale":{"domain":["b","r"],"range":["circle","triangle-up"]},"legend":null}}},
{"data":{"values":[{}]},"mark":{"type":"text","text":"NM","fontSize":15,"align":"left","baseline":"alphabetic"},"encoding":{"x":{"datum":-20.7,"type":"quantitative"},"y":{"datum":0.38,"type":"quantitative"}}}
]},
{"width":222,"height":95,"layer":[
{"data":{"values":[{}]},"mark":{"type":"rule","color":"#8a8a8a","strokeWidth":1},"encoding":{"x":{"datum":0,"type":"quantitative","scale":{"domain":[-20,20],"nice":false,"zero":false,"range":[0,199]},"axis":{"values":[-20,-10,0,10,20],"tickCount":10,"offset":9,"labels":false,"title":null}},"y":{"datum":-0.0665,"type":"quantitative","scale":{"domain":[0,0.3],"nice":false,"range":[95,7]},"axis":{"values":[0,0.1,0.2,0.3],"tickCount":10,"offset":15,"title":null,"labelOverlap":false,"labelExpr":"format(datum.value, '.1f')","labelPadding":1}},"y2":{"datum":0.3}}},
{"data":{"name":"crv"},"transform":[{"filter":"datum.p=='DP1'"}],"mark":{"type":"line","strokeWidth":2,"interpolate":"monotone","color":"black"},"encoding":{"x":{"field":"x","type":"quantitative"},"y":{"field":"y","type":"quantitative"}}},
{"data":{"name":"pts"},"transform":[{"filter":"datum.p=='DP1'"}],"mark":{"type":"point","filled":true,"opacity":1,"size":60,"color":"black","shape":"circle"},"encoding":{"x":{"field":"x","type":"quantitative"},"y":{"field":"y","type":"quantitative"}}},
{"data":{"values":[{}]},"mark":{"type":"text","text":"DP","fontSize":15,"align":"left","baseline":"alphabetic"},"encoding":{"x":{"datum":-20.8,"type":"quantitative"},"y":{"datum":0.24,"type":"quantitative"}}}
]},
{"width":0.01,"height":95,"view":{"stroke":"black"},"data":{"values":[]},"mark":"point"},
{"width":26,"height":95,"data":{"values":[{}]},"mark":{"type":"text","text":"Set Size 1","fontSize":17,"angle":90,"baseline":"middle","dx":16.5}},
{"width":0.01,"height":95,"view":{"stroke":"black"},"data":{"values":[]},"mark":"point"},

{"width":0.01,"height":107.5,"view":{"stroke":"black"},"data":{"values":[]},"mark":"point"},
{"width":76,"height":107.5,"data":{"values":[]},"mark":"point"},
{"width":225,"height":107.5,"layer":[
{"data":{"values":[{}]},"mark":{"type":"rule","color":"#8a8a8a","strokeWidth":1},"encoding":{"x":{"datum":0,"type":"quantitative","scale":{"domain":[-20,20],"nice":false,"zero":false,"range":[0,200]},"axis":{"values":[-20,-10,0,10,20],"tickCount":10,"offset":9,"labels":false,"title":null}},"y":{"datum":-0.111,"type":"quantitative","scale":{"domain":[0,0.5],"nice":false,"range":[107.5,19.5]},"axis":{"values":[0,0.1,0.2,0.3,0.4,0.5],"tickCount":10,"offset":11,"title":null,"labelOverlap":false,"labelExpr":"(datum.value == 0 || datum.value == 0.2 || datum.value == 0.4) ? format(datum.value, '.1f') : ''"}},"y2":{"datum":0.5}}},
{"data":{"name":"pts"},"transform":[{"filter":"datum.p=='CB2' && isValid(datum.lo)"}],"mark":{"type":"errorbar","ticks":true,"size":5,"thickness":1,"opacity":0.75,"color":"black"},"encoding":{"x":{"field":"x","type":"quantitative"},"y":{"field":"lo","type":"quantitative"},"y2":{"field":"hi"}}},
{"data":{"name":"crv"},"transform":[{"filter":"datum.p=='CB2'"}],"mark":{"type":"line","strokeWidth":2,"interpolate":"monotone","color":"black"},"encoding":{"x":{"field":"x","type":"quantitative"},"y":{"field":"y","type":"quantitative"}}},
{"data":{"name":"pts"},"transform":[{"filter":"datum.p=='CB2'"}],"mark":{"type":"point","filled":true,"opacity":1,"size":60,"color":"black","shape":"circle"},"encoding":{"x":{"field":"x","type":"quantitative"},"y":{"field":"y","type":"quantitative"}}}
]},
{"width":247,"height":107.5,"layer":[
{"data":{"values":[{}]},"mark":{"type":"rule","color":"#8a8a8a","strokeWidth":1},"encoding":{"x":{"datum":0,"type":"quantitative","scale":{"domain":[-20,20],"nice":false,"zero":false,"range":[0,199]},"axis":{"values":[-20,-10,0,10,20],"tickCount":10,"offset":9,"labels":false,"title":null}},"y":{"datum":-0.111,"type":"quantitative","scale":{"domain":[0,0.5],"nice":false,"range":[107.5,19.5]},"axis":{"values":[0,0.1,0.2,0.3,0.4,0.5],"tickCount":10,"offset":11,"title":null,"labels":false}},"y2":{"datum":0.5}}},
{"data":{"name":"pts"},"transform":[{"filter":"datum.p=='NM2' && isValid(datum.lo)"}],"mark":{"type":"errorbar","ticks":true,"size":5,"thickness":1,"opacity":0.75,"color":"black"},"encoding":{"x":{"field":"x","type":"quantitative"},"y":{"field":"lo","type":"quantitative"},"y2":{"field":"hi"}}},
{"data":{"name":"crv"},"transform":[{"filter":"datum.p=='NM2'"}],"mark":{"type":"line","strokeWidth":2,"interpolate":"monotone","color":"black"},"encoding":{"x":{"field":"x","type":"quantitative"},"y":{"field":"y","type":"quantitative"}}},
{"data":{"name":"pts"},"transform":[{"filter":"datum.p=='NM2'"}],"mark":{"type":"point","filled":true,"opacity":1,"size":60,"color":"black","shape":"circle"},"encoding":{"x":{"field":"x","type":"quantitative"},"y":{"field":"y","type":"quantitative"}}}
]},
{"width":222,"height":107.5,"layer":[
{"data":{"values":[{}]},"mark":{"type":"rule","color":"#8a8a8a","strokeWidth":1},"encoding":{"x":{"datum":0,"type":"quantitative","scale":{"domain":[-20,20],"nice":false,"zero":false,"range":[0,199]},"axis":{"values":[-20,-10,0,10,20],"tickCount":10,"offset":9,"labels":false,"title":null}},"y":{"datum":-0.0665,"type":"quantitative","scale":{"domain":[0,0.3],"nice":false,"range":[107.5,19.5]},"axis":{"values":[0,0.1,0.2,0.3],"tickCount":10,"offset":15,"title":null,"labelOverlap":false,"labelExpr":"format(datum.value, '.1f')","labelPadding":1}},"y2":{"datum":0.3}}},
{"data":{"name":"crv"},"transform":[{"filter":"datum.p=='DP2'"}],"mark":{"type":"line","strokeWidth":2,"interpolate":"monotone","color":"black"},"encoding":{"x":{"field":"x","type":"quantitative"},"y":{"field":"y","type":"quantitative"}}},
{"data":{"name":"pts"},"transform":[{"filter":"datum.p=='DP2'"}],"mark":{"type":"point","filled":true,"opacity":1,"size":60,"color":"black","shape":"circle"},"encoding":{"x":{"field":"x","type":"quantitative"},"y":{"field":"y","type":"quantitative"}}}
]},
{"width":0.01,"height":107.5,"view":{"stroke":"black"},"data":{"values":[]},"mark":"point"},
{"width":26,"height":107.5,"data":{"values":[{}]},"mark":{"type":"text","text":"Set Size 2","fontSize":17,"angle":90,"baseline":"middle","dx":22}},
{"width":0.01,"height":107.5,"view":{"stroke":"black"},"data":{"values":[]},"mark":"point"},

{"width":0.01,"height":107.5,"view":{"stroke":"black"},"data":{"values":[]},"mark":"point"},
{"width":76,"height":107.5,"data":{"values":[{}]},"layer":[
{"mark":{"type":"text","text":"P (","angle":270,"align":"right","baseline":"middle","fontSize":24,"dx":-70,"dy":-13}},
{"mark":{"type":"text","text":"responses","angle":270,"align":"center","baseline":"middle","fontSize":24,"fontStyle":"italic","dx":-14,"dy":-13}},
{"mark":{"type":"text","text":")","angle":270,"align":"left","baseline":"middle","fontSize":24,"dx":42,"dy":-13}}
]},
{"width":225,"height":107.5,"layer":[
{"data":{"values":[{}]},"mark":{"type":"rule","color":"#8a8a8a","strokeWidth":1},"encoding":{"x":{"datum":0,"type":"quantitative","scale":{"domain":[-20,20],"nice":false,"zero":false,"range":[0,200]},"axis":{"values":[-20,-10,0,10,20],"tickCount":10,"offset":9,"labels":false,"title":null}},"y":{"datum":-0.111,"type":"quantitative","scale":{"domain":[0,0.5],"nice":false,"range":[107.5,19.5]},"axis":{"values":[0,0.1,0.2,0.3,0.4,0.5],"tickCount":10,"offset":11,"title":null,"labelOverlap":false,"labelExpr":"(datum.value == 0 || datum.value == 0.2 || datum.value == 0.4) ? format(datum.value, '.1f') : ''"}},"y2":{"datum":0.5}}},
{"data":{"name":"pts"},"transform":[{"filter":"datum.p=='CB3' && isValid(datum.lo)"}],"mark":{"type":"errorbar","ticks":true,"size":5,"thickness":1,"opacity":0.75,"color":"black"},"encoding":{"x":{"field":"x","type":"quantitative"},"y":{"field":"lo","type":"quantitative"},"y2":{"field":"hi"}}},
{"data":{"name":"crv"},"transform":[{"filter":"datum.p=='CB3'"}],"mark":{"type":"line","strokeWidth":2,"interpolate":"monotone","color":"black"},"encoding":{"x":{"field":"x","type":"quantitative"},"y":{"field":"y","type":"quantitative"}}},
{"data":{"name":"pts"},"transform":[{"filter":"datum.p=='CB3'"}],"mark":{"type":"point","filled":true,"opacity":1,"size":60,"color":"black","shape":"circle"},"encoding":{"x":{"field":"x","type":"quantitative"},"y":{"field":"y","type":"quantitative"}}}
]},
{"width":247,"height":107.5,"layer":[
{"data":{"values":[{}]},"mark":{"type":"rule","color":"#8a8a8a","strokeWidth":1},"encoding":{"x":{"datum":0,"type":"quantitative","scale":{"domain":[-20,20],"nice":false,"zero":false,"range":[0,199]},"axis":{"values":[-20,-10,0,10,20],"tickCount":10,"offset":9,"labels":false,"title":null}},"y":{"datum":-0.111,"type":"quantitative","scale":{"domain":[0,0.5],"nice":false,"range":[107.5,19.5]},"axis":{"values":[0,0.1,0.2,0.3,0.4,0.5],"tickCount":10,"offset":11,"title":null,"labels":false}},"y2":{"datum":0.5}}},
{"data":{"name":"pts"},"transform":[{"filter":"datum.p=='NM3' && isValid(datum.lo)"}],"mark":{"type":"errorbar","ticks":true,"size":5,"thickness":1,"opacity":0.75,"color":"black"},"encoding":{"x":{"field":"x","type":"quantitative"},"y":{"field":"lo","type":"quantitative"},"y2":{"field":"hi"}}},
{"data":{"name":"crv"},"transform":[{"filter":"datum.p=='NM3'"}],"mark":{"type":"line","strokeWidth":2,"interpolate":"monotone","color":"black"},"encoding":{"x":{"field":"x","type":"quantitative"},"y":{"field":"y","type":"quantitative"}}},
{"data":{"name":"pts"},"transform":[{"filter":"datum.p=='NM3'"}],"mark":{"type":"point","filled":true,"opacity":1,"size":60,"color":"black","shape":"circle"},"encoding":{"x":{"field":"x","type":"quantitative"},"y":{"field":"y","type":"quantitative"}}}
]},
{"width":222,"height":107.5,"layer":[
{"data":{"values":[{}]},"mark":{"type":"rule","color":"#8a8a8a","strokeWidth":1},"encoding":{"x":{"datum":0,"type":"quantitative","scale":{"domain":[-20,20],"nice":false,"zero":false,"range":[0,199]},"axis":{"values":[-20,-10,0,10,20],"tickCount":10,"offset":9,"labels":false,"title":null}},"y":{"datum":-0.0665,"type":"quantitative","scale":{"domain":[0,0.3],"nice":false,"range":[107.5,19.5]},"axis":{"values":[0,0.1,0.2,0.3],"tickCount":10,"offset":15,"title":null,"labelOverlap":false,"labelExpr":"format(datum.value, '.1f')","labelPadding":1}},"y2":{"datum":0.3}}},
{"data":{"name":"crv"},"transform":[{"filter":"datum.p=='DP3'"}],"mark":{"type":"line","strokeWidth":2,"interpolate":"monotone","color":"black"},"encoding":{"x":{"field":"x","type":"quantitative"},"y":{"field":"y","type":"quantitative"}}},
{"data":{"name":"pts"},"transform":[{"filter":"datum.p=='DP3'"}],"mark":{"type":"point","filled":true,"opacity":1,"size":60,"color":"black","shape":"circle"},"encoding":{"x":{"field":"x","type":"quantitative"},"y":{"field":"y","type":"quantitative"}}}
]},
{"width":0.01,"height":107.5,"view":{"stroke":"black"},"data":{"values":[]},"mark":"point"},
{"width":26,"height":107.5,"data":{"values":[{}]},"mark":{"type":"text","text":"Set Size 4","fontSize":17,"angle":90,"baseline":"middle","dx":22}},
{"width":0.01,"height":107.5,"view":{"stroke":"black"},"data":{"values":[]},"mark":"point"},

{"width":0.01,"height":107.5,"view":{"stroke":"black"},"data":{"values":[]},"mark":"point"},
{"width":76,"height":107.5,"data":{"values":[]},"mark":"point"},
{"width":225,"height":107.5,"layer":[
{"data":{"values":[{}]},"mark":{"type":"rule","color":"#8a8a8a","strokeWidth":1},"encoding":{"x":{"datum":0,"type":"quantitative","scale":{"domain":[-20,20],"nice":false,"zero":false,"range":[0,200]},"axis":{"values":[-20,-10,0,10,20],"tickCount":10,"offset":9,"labels":false,"title":null}},"y":{"datum":-0.111,"type":"quantitative","scale":{"domain":[0,0.5],"nice":false,"range":[107.5,19.5]},"axis":{"values":[0,0.1,0.2,0.3,0.4,0.5],"tickCount":10,"offset":11,"title":null,"labelOverlap":false,"labelExpr":"(datum.value == 0 || datum.value == 0.2 || datum.value == 0.4) ? format(datum.value, '.1f') : ''"}},"y2":{"datum":0.5}}},
{"data":{"name":"pts"},"transform":[{"filter":"datum.p=='CB4' && isValid(datum.lo)"}],"mark":{"type":"errorbar","ticks":true,"size":5,"thickness":1,"opacity":0.75,"color":"black"},"encoding":{"x":{"field":"x","type":"quantitative"},"y":{"field":"lo","type":"quantitative"},"y2":{"field":"hi"}}},
{"data":{"name":"crv"},"transform":[{"filter":"datum.p=='CB4'"}],"mark":{"type":"line","strokeWidth":2,"interpolate":"monotone","color":"black"},"encoding":{"x":{"field":"x","type":"quantitative"},"y":{"field":"y","type":"quantitative"}}},
{"data":{"name":"pts"},"transform":[{"filter":"datum.p=='CB4'"}],"mark":{"type":"point","filled":true,"opacity":1,"size":60,"color":"black","shape":"circle"},"encoding":{"x":{"field":"x","type":"quantitative"},"y":{"field":"y","type":"quantitative"}}}
]},
{"width":247,"height":107.5,"layer":[
{"data":{"values":[{}]},"mark":{"type":"rule","color":"#8a8a8a","strokeWidth":1},"encoding":{"x":{"datum":0,"type":"quantitative","scale":{"domain":[-20,20],"nice":false,"zero":false,"range":[0,199]},"axis":{"values":[-20,-10,0,10,20],"tickCount":10,"offset":9,"labels":false,"title":null}},"y":{"datum":-0.111,"type":"quantitative","scale":{"domain":[0,0.5],"nice":false,"range":[107.5,19.5]},"axis":{"values":[0,0.1,0.2,0.3,0.4,0.5],"tickCount":10,"offset":11,"title":null,"labels":false}},"y2":{"datum":0.5}}},
{"data":{"name":"pts"},"transform":[{"filter":"datum.p=='NM4' && isValid(datum.lo)"}],"mark":{"type":"errorbar","ticks":true,"size":5,"thickness":1,"opacity":0.75,"color":"black"},"encoding":{"x":{"field":"x","type":"quantitative"},"y":{"field":"lo","type":"quantitative"},"y2":{"field":"hi"}}},
{"data":{"name":"crv"},"transform":[{"filter":"datum.p=='NM4'"}],"mark":{"type":"line","strokeWidth":2,"interpolate":"monotone","color":"black"},"encoding":{"x":{"field":"x","type":"quantitative"},"y":{"field":"y","type":"quantitative"}}},
{"data":{"name":"pts"},"transform":[{"filter":"datum.p=='NM4'"}],"mark":{"type":"point","filled":true,"opacity":1,"size":60,"color":"black","shape":"circle"},"encoding":{"x":{"field":"x","type":"quantitative"},"y":{"field":"y","type":"quantitative"}}}
]},
{"width":222,"height":107.5,"layer":[
{"data":{"values":[{}]},"mark":{"type":"rule","color":"#8a8a8a","strokeWidth":1},"encoding":{"x":{"datum":0,"type":"quantitative","scale":{"domain":[-20,20],"nice":false,"zero":false,"range":[0,199]},"axis":{"values":[-20,-10,0,10,20],"tickCount":10,"offset":9,"labels":false,"title":null}},"y":{"datum":-0.0665,"type":"quantitative","scale":{"domain":[0,0.3],"nice":false,"range":[107.5,19.5]},"axis":{"values":[0,0.1,0.2,0.3],"tickCount":10,"offset":15,"title":null,"labelOverlap":false,"labelExpr":"format(datum.value, '.1f')","labelPadding":1}},"y2":{"datum":0.3}}},
{"data":{"name":"crv"},"transform":[{"filter":"datum.p=='DP4'"}],"mark":{"type":"line","strokeWidth":2,"interpolate":"monotone","color":"black"},"encoding":{"x":{"field":"x","type":"quantitative"},"y":{"field":"y","type":"quantitative"}}},
{"data":{"name":"pts"},"transform":[{"filter":"datum.p=='DP4'"}],"mark":{"type":"point","filled":true,"opacity":1,"size":60,"color":"black","shape":"circle"},"encoding":{"x":{"field":"x","type":"quantitative"},"y":{"field":"y","type":"quantitative"}}}
]},
{"width":0.01,"height":107.5,"view":{"stroke":"black"},"data":{"values":[]},"mark":"point"},
{"width":26,"height":107.5,"data":{"values":[{}]},"mark":{"type":"text","text":"Set Size 8","fontSize":17,"angle":90,"baseline":"middle","dx":22}},
{"width":0.01,"height":107.5,"view":{"stroke":"black"},"data":{"values":[]},"mark":"point"},

{"width":0.01,"height":107.5,"view":{"stroke":"black"},"data":{"values":[]},"mark":"point"},
{"width":76,"height":107.5,"data":{"values":[]},"mark":"point"},
{"width":225,"height":107.5,"layer":[
{"data":{"values":[{}]},"mark":{"type":"rule","color":"#8a8a8a","strokeWidth":1},"encoding":{"x":{"datum":0,"type":"quantitative","scale":{"domain":[-20,20],"nice":false,"zero":false,"range":[0,200]},"axis":{"values":[-20,-10,0,10,20],"tickCount":10,"offset":9,"title":null,"labelExpr":"datum.value < 0 ? '-' + (-datum.value) : '' + datum.value"}},"y":{"datum":-0.05,"type":"quantitative","scale":{"domain":[0,0.5],"nice":false,"range":[107.5,19.5]},"axis":{"values":[0,0.1,0.2,0.3,0.4,0.5],"tickCount":10,"offset":11,"title":null,"labelOverlap":false,"labelExpr":"(datum.value == 0 || datum.value == 0.2 || datum.value == 0.4) ? format(datum.value, '.1f') : ''"}},"y2":{"datum":0.5}}},
{"data":{"name":"pts"},"transform":[{"filter":"datum.p=='CB5' && isValid(datum.lo)"}],"mark":{"type":"errorbar","ticks":true,"size":5,"thickness":1,"opacity":0.75,"color":"black"},"encoding":{"x":{"field":"x","type":"quantitative"},"y":{"field":"lo","type":"quantitative"},"y2":{"field":"hi"}}},
{"data":{"name":"crv"},"transform":[{"filter":"datum.p=='CB5'"}],"mark":{"type":"line","strokeWidth":2,"interpolate":"monotone","color":"black"},"encoding":{"x":{"field":"x","type":"quantitative"},"y":{"field":"y","type":"quantitative"}}},
{"data":{"name":"pts"},"transform":[{"filter":"datum.p=='CB5'"}],"mark":{"type":"point","filled":true,"opacity":1,"size":60,"color":"black","shape":"circle"},"encoding":{"x":{"field":"x","type":"quantitative"},"y":{"field":"y","type":"quantitative"}}}
]},
{"width":247,"height":107.5,"layer":[
{"data":{"values":[{}]},"mark":{"type":"rule","color":"#8a8a8a","strokeWidth":1},"encoding":{"x":{"datum":0,"type":"quantitative","scale":{"domain":[-20,20],"nice":false,"zero":false,"range":[0,199]},"axis":{"values":[-20,-10,0,10,20],"tickCount":10,"offset":9,"title":"Reported tilt (°)","titleFontSize":21,"titleY":37,"titleBaseline":"alphabetic","labelExpr":"datum.value < 0 ? '-' + (-datum.value) : '' + datum.value"}},"y":{"datum":-0.05,"type":"quantitative","scale":{"domain":[0,0.5],"nice":false,"range":[107.5,19.5]},"axis":{"values":[0,0.1,0.2,0.3,0.4,0.5],"tickCount":10,"offset":11,"title":null,"labels":false}},"y2":{"datum":0.5}}},
{"data":{"name":"pts"},"transform":[{"filter":"datum.p=='NM5' && isValid(datum.lo)"}],"mark":{"type":"errorbar","ticks":true,"size":5,"thickness":1,"opacity":0.75,"color":"black"},"encoding":{"x":{"field":"x","type":"quantitative"},"y":{"field":"lo","type":"quantitative"},"y2":{"field":"hi"}}},
{"data":{"name":"crv"},"transform":[{"filter":"datum.p=='NM5'"}],"mark":{"type":"line","strokeWidth":2,"interpolate":"monotone","color":"black"},"encoding":{"x":{"field":"x","type":"quantitative"},"y":{"field":"y","type":"quantitative"}}},
{"data":{"name":"pts"},"transform":[{"filter":"datum.p=='NM5'"}],"mark":{"type":"point","filled":true,"opacity":1,"size":60,"color":"black","shape":"circle"},"encoding":{"x":{"field":"x","type":"quantitative"},"y":{"field":"y","type":"quantitative"}}}
]},
{"width":222,"height":107.5,"layer":[
{"data":{"values":[{}]},"mark":{"type":"rule","color":"#8a8a8a","strokeWidth":1},"encoding":{"x":{"datum":0,"type":"quantitative","scale":{"domain":[-20,20],"nice":false,"zero":false,"range":[0,199]},"axis":{"values":[-20,-10,0,10,20],"tickCount":10,"offset":9,"title":null,"labelExpr":"datum.value < 0 ? '-' + (-datum.value) : '' + datum.value"}},"y":{"datum":-0.03,"type":"quantitative","scale":{"domain":[0,0.3],"nice":false,"range":[107.5,19.5]},"axis":{"values":[0,0.1,0.2,0.3],"tickCount":10,"offset":15,"title":null,"labelOverlap":false,"labelExpr":"format(datum.value, '.1f')","labelPadding":1}},"y2":{"datum":0.3}}},
{"data":{"name":"crv"},"transform":[{"filter":"datum.p=='DP5'"}],"mark":{"type":"line","strokeWidth":2,"interpolate":"monotone","color":"black"},"encoding":{"x":{"field":"x","type":"quantitative"},"y":{"field":"y","type":"quantitative"}}},
{"data":{"name":"pts"},"transform":[{"filter":"datum.p=='DP5'"}],"mark":{"type":"point","filled":true,"opacity":1,"size":60,"color":"black","shape":"circle"},"encoding":{"x":{"field":"x","type":"quantitative"},"y":{"field":"y","type":"quantitative"}}}
]},
{"width":0.01,"height":107.5,"view":{"stroke":"black"},"data":{"values":[]},"mark":"point"},
{"width":26,"height":107.5,"data":{"values":[{}]},"mark":{"type":"text","text":"Set Size 16","fontSize":17,"angle":90,"baseline":"middle","dx":25}},
{"width":0.01,"height":107.5,"view":{"stroke":"black"},"data":{"values":[]},"mark":"point"},

{"width":0.01,"height":51,"view":{"stroke":"black"},"data":{"values":[]},"mark":"point"},
{"width":76,"height":51,"data":{"values":[]},"mark":"point"},
{"width":225,"height":51,"data":{"values":[]},"mark":"point"},
{"width":247,"height":51,"data":{"values":[]},"mark":"point"},
{"width":222,"height":51,"data":{"values":[]},"mark":"point"},
{"width":0.01,"height":51,"view":{"stroke":"black"},"data":{"values":[]},"mark":"point"},
{"width":26,"height":51,"data":{"values":[]},"mark":"point"},
{"width":0.01,"height":51,"view":{"stroke":"black"},"data":{"values":[]},"mark":"point"},

{"width":0.01,"height":0.01,"data":{"values":[]},"mark":"point"},
{"width":76,"height":0.01,"view":{"stroke":"black"},"data":{"values":[]},"mark":"point"},
{"width":225,"height":0.01,"view":{"stroke":"black"},"data":{"values":[]},"mark":"point"},
{"width":247,"height":0.01,"view":{"stroke":"black"},"data":{"values":[]},"mark":"point"},
{"width":222,"height":0.01,"view":{"stroke":"black"},"data":{"values":[]},"mark":"point"},
{"width":0.01,"height":0.01,"data":{"values":[]},"mark":"point"},
{"width":26,"height":0.01,"view":{"stroke":"black"},"data":{"values":[]},"mark":"point"},
{"width":0.01,"height":0.01,"data":{"values":[]},"mark":"point"}
]
}
